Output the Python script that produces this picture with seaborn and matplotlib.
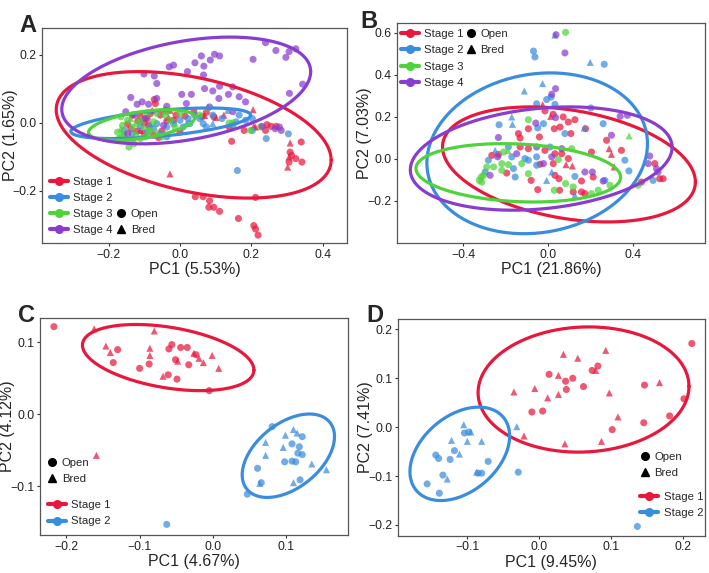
import numpy as np
import pandas as pd
import seaborn as sns
import matplotlib.pyplot as plt
from matplotlib.lines import Line2D

sns.set_theme(style="white")
plt.rcParams["font.family"] = ["Liberation Sans", "DejaVu Sans"]

# -------------------------------
# DATA (PC scores)
# -------------------------------
STAGES = ["Stage 1", "Stage 2", "Stage 3", "Stage 4"]
COLORS = ["#E8183C", "#3A8DDE", "#4ED33A", "#8A3CCF"]

# Panel A
A_S1_OPEN = [(0.212, -0.219), (0.207, -0.302), (0.212, -0.312), (0.219, -0.330), (0.164, -0.281),
             (0.111, -0.260), (0.095, -0.248), (0.083, -0.229), (0.081, -0.248), (0.065, -0.217),
             (0.043, -0.217), (0.145, -0.054), (0.309, -0.086), (0.313, -0.096), (0.325, -0.105),
             (0.342, -0.115), (0.306, -0.115), (0.340, -0.056), (0.240, -0.022), (0.256, -0.010),
             (0.270, -0.010), (0.244, -0.005), (-0.011, 0.023), (-0.018, 0.008), (0.014, 0.020),
             (0.039, 0.033), (0.062, 0.018), (0.074, 0.031), (0.095, 0.018), (-0.069, 0.057),
             (-0.072, 0.069), (-0.041, 0.037), (-0.055, 0.023), (-0.083, 0.028), (-0.092, 0.013),
             (-0.111, 0.020), (-0.118, 0.006), (-0.101, 0.000), (-0.138, -0.017), (-0.120, -0.024),
             (-0.101, -0.030), (-0.074, -0.036), (-0.051, -0.024), (-0.060, -0.043), (-0.037, 0.006),
             (-0.147, -0.004), (-0.134, 0.023), (-0.088, -0.007), (0.138, -0.012), (0.180, -0.022),
             (0.000, -0.027)]
A_S1_BRED = [(0.309, -0.059), (0.302, -0.130), (0.212, -0.012), (0.205, 0.039), (0.123, 0.023),
             (0.069, 0.022), (0.101, 0.016), (-0.028, -0.150), (0.207, -0.010), (-0.111, -0.022),
             (-0.028, 0.037), (-0.032, 0.016), (-0.078, 0.037), (0.306, -0.100)]
A_S2_OPEN = [(0.161, -0.140), (0.242, -0.046), (0.304, -0.032), (0.203, -0.022), (0.148, -0.007),
             (0.092, 0.023), (0.166, 0.023), (0.184, 0.008), (0.065, -0.002), (0.041, 0.023),
             (0.023, 0.013), (0.000, 0.008), (-0.018, -0.002), (-0.037, -0.012), (-0.065, -0.002),
             (-0.092, -0.027), (-0.111, -0.012), (-0.134, -0.032), (-0.157, -0.022), (-0.074, -0.017),
             (-0.055, -0.032), (-0.037, -0.041), (0.009, -0.012), (0.028, -0.002), (0.055, 0.013),
             (0.074, -0.012), (0.203, 0.013), (0.118, 0.013), (0.157, 0.003)]
A_S2_BRED = [(0.092, -0.002), (0.134, 0.037), (0.018, -0.002), (-0.083, -0.002)]
A_S3_OPEN = [(-0.166, 0.018), (-0.161, -0.007), (-0.157, -0.032), (-0.143, -0.071), (-0.134, -0.051),
             (-0.124, -0.036), (-0.147, 0.008), (-0.134, -0.012), (-0.120, -0.002), (-0.111, -0.046),
             (-0.097, -0.041), (-0.083, -0.022), (-0.074, 0.003), (-0.092, 0.028), (-0.065, 0.028),
             (-0.041, 0.023), (-0.028, 0.008), (-0.014, -0.012), (-0.175, -0.027), (-0.171, -0.046),
             (-0.152, -0.051), (-0.129, -0.061), (-0.037, 0.033), (0.055, 0.023), (0.138, 0.000),
             (0.148, 0.000), (0.198, -0.022), (0.226, -0.012), (-0.051, -0.041), (0.000, 0.028),
             (-0.111, 0.008), (-0.088, -0.024), (-0.164, -0.041)]
A_S3_BRED = [(-0.138, 0.013), (-0.101, -0.010), (0.078, 0.047), (-0.065, -0.027), (-0.166, -0.017)]
A_S4_OPEN = [(0.240, 0.236), (0.269, 0.213), (0.306, 0.210), (0.325, 0.218), (0.297, 0.193),
             (0.205, 0.187), (0.344, 0.114), (0.307, 0.087), (0.060, 0.197), (0.097, 0.202),
             (0.111, 0.197), (0.085, 0.185), (0.067, 0.167), (0.042, 0.177), (-0.018, 0.170),
             (-0.030, 0.165), (0.021, 0.151), (-0.072, 0.138), (-0.101, 0.144), (-0.065, 0.116),
             (0.066, 0.141), (0.111, 0.108), (0.092, 0.094), (0.005, 0.084), (0.032, 0.084),
             (0.069, 0.101), (0.136, 0.084), (0.148, 0.106), (0.166, 0.077), (0.184, 0.062),
             (0.109, 0.072), (-0.138, 0.075), (-0.106, 0.062), (-0.088, 0.055), (-0.120, 0.055),
             (-0.065, 0.072), (-0.037, 0.049), (0.018, 0.057), (-0.152, 0.033), (-0.129, 0.023),
             (0.267, -0.017), (0.284, -0.022), (0.279, -0.012), (0.230, -0.010), (-0.097, 0.013),
             (0.083, 0.047), (0.148, 0.033), (-0.147, -0.032), (-0.046, -0.007)]
A_S4_BRED = []

# Panel B
B_S1_OPEN = [(-0.016, 0.229), (0.023, 0.213), (0.070, 0.200), (0.125, 0.187), (0.175, 0.144),
             (-0.141, 0.121), (-0.133, 0.100), (-0.094, 0.144), (-0.042, 0.105), (0.028, 0.144),
             (0.094, 0.176), (0.055, 0.152), (0.106, 0.121), (-0.133, 0.057), (-0.094, 0.049),
             (0.063, 0.025), (0.031, 0.025), (-0.016, 0.041), (0.094, 0.002), (0.023, -0.022),
             (0.203, 0.033), (0.274, 0.089), (0.344, 0.041), (0.501, -0.022), (0.540, -0.094),
             (0.524, -0.094), (0.438, -0.110), (0.156, -0.105), (0.211, -0.086), (0.156, -0.157),
             (0.172, -0.165), (0.050, -0.094), (0.053, -0.149), (0.117, -0.157), (-0.050, -0.146),
             (0.031, -0.078), (-0.081, -0.102), (-0.039, -0.025), (-0.196, -0.067), (-0.266, 0.017),
             (-0.235, 0.022)]
B_S1_BRED = [(-0.027, 0.259), (0.011, 0.203), (0.083, -0.027), (0.113, -0.033), (0.286, 0.049),
             (0.297, 0.022), (0.310, -0.038)]
B_S2_OPEN = [(-0.070, 0.514), (-0.063, 0.486), (0.263, 0.451), (-0.008, 0.283), (0.013, 0.295),
             (-0.055, 0.263), (0.031, 0.260), (0.200, 0.243), (0.258, 0.168), (-0.232, 0.163),
             (-0.050, 0.148), (-0.023, 0.168), (0.078, 0.121), (-0.188, 0.057), (0.008, 0.057),
             (0.360, -0.006), (0.493, -0.102), (0.379, -0.057), (0.125, -0.083), (0.266, -0.102),
             (-0.055, -0.030), (-0.156, -0.086), (-0.164, -0.046), (-0.282, -0.006), (-0.297, -0.062),
             (-0.172, 0.010), (-0.110, 0.002), (-0.094, -0.006), (-0.055, 0.010)]
B_S2_BRED = [(0.031, 0.590), (0.197, 0.460), (-0.027, 0.359), (-0.113, 0.324), (-0.172, 0.200),
             (-0.169, 0.165), (0.169, 0.148), (-0.250, 0.041), (0.125, -0.173), (-0.008, -0.102),
             (0.016, -0.062)]
B_S3_OPEN = [(0.081, 0.603), (-0.094, 0.187), (-0.211, 0.033), (0.110, 0.049), (0.047, -0.003),
             (0.423, -0.125), (0.203, -0.165), (0.235, -0.149), (0.290, -0.125), (0.117, -0.133),
             (0.081, -0.117), (0.028, -0.149), (-0.094, -0.070), (-0.219, -0.054), (-0.258, -0.038),
             (-0.290, -0.038), (-0.316, -0.086), (-0.325, -0.102), (-0.313, -0.110), (-0.305, -0.078),
             (-0.125, -0.022), (-0.188, -0.027), (-0.219, -0.022)]
B_S3_BRED = [(0.380, 0.110), (-0.190, 0.040)]
B_S4_OPEN = [(0.036, 0.592), (0.078, 0.505), (0.034, 0.335), (0.016, 0.308), (0.338, 0.203),
             (0.372, 0.208), (-0.059, 0.171), (0.034, 0.197), (-0.235, 0.102), (-0.055, 0.057),
             (0.063, 0.049), (0.016, 0.010), (0.477, 0.014), (0.470, -0.022), (0.509, -0.046),
             (0.516, -0.062), (0.172, -0.062), (0.207, -0.062), (0.258, -0.105), (-0.238, 0.010),
             (-0.274, -0.078), (-0.149, 0.025), (-0.023, -0.022), (0.297, 0.113)]
B_S4_BRED = []

# Panel C
C_S1_OPEN = [(-0.217, 0.122), (-0.130, 0.090), (-0.136, 0.072), (-0.100, 0.064), (-0.087, 0.070),
             (-0.060, 0.091), (-0.056, 0.097), (-0.044, 0.093), (-0.035, 0.093), (-0.051, 0.076),
             (-0.033, 0.069), (-0.023, 0.083), (-0.061, 0.055), (-0.049, 0.049), (-0.005, 0.033)]
C_S1_BRED = [(-0.162, 0.119), (-0.146, 0.095), (-0.140, 0.086), (-0.080, 0.116), (-0.086, 0.092),
             (-0.086, 0.082), (-0.068, 0.053), (-0.048, 0.074), (-0.019, 0.078), (-0.013, 0.072),
             (-0.001, 0.082), (0.008, 0.064), (-0.159, -0.057), (-0.026, 0.085)]
C_S2_OPEN = [(0.081, -0.017), (0.108, -0.041), (0.122, -0.031), (0.118, -0.045), (0.116, -0.054),
             (0.122, -0.056), (0.098, -0.066), (0.108, -0.065), (0.113, -0.066), (0.061, -0.075),
             (0.066, -0.095), (0.119, -0.091), (0.047, -0.111), (-0.063, -0.153)]
C_S2_BRED = [(0.072, -0.039), (0.072, -0.057), (0.099, -0.029), (0.096, -0.046), (0.110, -0.021),
             (0.115, -0.026), (0.135, -0.069), (0.155, -0.077), (0.110, -0.095), (0.064, -0.096)]

# Panel D
D_S1_OPEN = [(0.213, 0.171), (0.014, 0.108), (0.037, 0.094), (0.047, 0.100), (0.038, 0.077),
             (0.062, 0.083), (0.074, 0.116), (0.082, 0.125), (0.147, 0.086), (0.202, 0.058),
             (0.182, 0.023), (0.146, 0.009), (0.102, -0.005), (-0.010, 0.031), (0.005, 0.033)]
D_S1_BRED = [(0.034, 0.149), (0.054, 0.141), (0.093, 0.157), (0.168, 0.091), (0.098, 0.070),
             (0.110, 0.021), (0.027, 0.106), (0.027, 0.067), (0.012, 0.060), (-0.006, 0.079),
             (-0.035, 0.072), (-0.021, -0.018), (0.036, -0.034), (0.087, -0.029), (0.079, 0.116)]
D_S2_OPEN = [(-0.118, -0.048), (-0.124, -0.066), (-0.144, -0.057), (-0.140, -0.064), (-0.134, -0.098),
             (-0.156, -0.116), (-0.139, -0.135), (-0.080, -0.094), (-0.085, -0.094), (-0.071, -0.070),
             (-0.029, -0.092), (0.137, -0.203), (-0.104, -0.012), (-0.098, -0.010)]
D_S2_BRED = [(-0.105, 0.005), (-0.095, -0.010), (-0.100, -0.029), (-0.080, -0.029), (-0.122, -0.027),
             (-0.111, -0.055), (-0.128, -0.106), (-0.031, 0.001), (-0.087, -0.092)]

# Ellipses: centre x, centre y, half-width, half-height, tilt phase
A_ELLIPSES = [(0.0385, -0.035, 0.3855, 0.186, -0.41), (-0.054, -0.001, 0.252, 0.045, 0.56),
              (-0.1075, -0.006, 0.149, 0.045, 0.51), (0.0175, 0.0955, 0.349, 0.157, 0.36)]
B_ELLIPSES = [(0.097, -0.026, 0.595, 0.274, -0.31), (-0.0525, 0.027, 0.519, 0.383, 0.12),
              (-0.1415, -0.066, 0.4815, 0.139, -0.15), (-0.0335, 0.002, 0.616, 0.246, 0.22)]
C_ELLIPSES = [(-0.061, 0.079, 0.117, 0.046, -0.385), (0.103, -0.0575, 0.063, 0.058, 0.475)]
D_ELLIPSES = [(0.062, 0.077, 0.147, 0.128, 0.05), (-0.1105, -0.0545, 0.0695, 0.0955, 0.39)]

A_LABELS = ("PC1 (5.53%)", "PC2 (1.65%)")
B_LABELS = ("PC1 (21.86%)", "PC2 (7.03%)")
C_LABELS = ("PC1 (4.67%)", "PC2 (4.12%)")
D_LABELS = ("PC1 (9.45%)", "PC2 (7.41%)")

A_XTICKS, A_YTICKS = [-0.2, 0.0, 0.2, 0.4], [-0.2, 0.0, 0.2]
B_XTICKS, B_YTICKS = [-0.4, 0.0, 0.4], [-0.2, 0.0, 0.2, 0.4, 0.6]
C_XTICKS, C_YTICKS = [-0.2, -0.1, 0.0, 0.1], [-0.1, 0.0, 0.1]
D_XTICKS, D_YTICKS = [-0.1, 0.0, 0.1, 0.2], [-0.2, -0.1, 0.0, 0.1, 0.2]


def build_frame(groups):
    rows = []
    for stage, status, pts in groups:
        for x, y in pts:
            rows.append({"PC1": x, "PC2": y, "Stage": stage, "Status": status})
    return pd.DataFrame(rows)


df_a = build_frame([("Stage 1", "Open", A_S1_OPEN), ("Stage 1", "Bred", A_S1_BRED),
                    ("Stage 2", "Open", A_S2_OPEN), ("Stage 2", "Bred", A_S2_BRED),
                    ("Stage 3", "Open", A_S3_OPEN), ("Stage 3", "Bred", A_S3_BRED),
                    ("Stage 4", "Open", A_S4_OPEN), ("Stage 4", "Bred", A_S4_BRED)])
df_b = build_frame([("Stage 1", "Open", B_S1_OPEN), ("Stage 1", "Bred", B_S1_BRED),
                    ("Stage 2", "Open", B_S2_OPEN), ("Stage 2", "Bred", B_S2_BRED),
                    ("Stage 3", "Open", B_S3_OPEN), ("Stage 3", "Bred", B_S3_BRED),
                    ("Stage 4", "Open", B_S4_OPEN), ("Stage 4", "Bred", B_S4_BRED)])
df_c = build_frame([("Stage 1", "Open", C_S1_OPEN), ("Stage 1", "Bred", C_S1_BRED),
                    ("Stage 2", "Open", C_S2_OPEN), ("Stage 2", "Bred", C_S2_BRED)])
df_d = build_frame([("Stage 1", "Open", D_S1_OPEN), ("Stage 1", "Bred", D_S1_BRED),
                    ("Stage 2", "Open", D_S2_OPEN), ("Stage 2", "Bred", D_S2_BRED)])

palette = dict(zip(STAGES, COLORS))

fig = plt.figure(figsize=(7.09, 5.73), dpi=100)
ax_a = fig.add_axes([0.0592, 0.576, 0.430, 0.375])
ax_b = fig.add_axes([0.560, 0.576, 0.434, 0.384])
ax_c = fig.add_axes([0.0564, 0.066, 0.434, 0.379])
ax_d = fig.add_axes([0.561, 0.065, 0.433, 0.379])


def draw_panel(ax, df, ellipses, labels, xticks, yticks, xlim, ylim):
    sns.scatterplot(data=df, x="PC1", y="PC2", hue="Stage", style="Status",
                    markers={"Open": "o", "Bred": "^"}, palette=palette,
                    s=26, alpha=0.72, linewidth=0, legend=False, ax=ax)
    t = np.linspace(0, 2 * np.pi, 300)
    for (cx, cy, rx, ry, phi), col in zip(ellipses, COLORS):
        ax.plot(cx + rx * np.cos(t), cy + ry * np.sin(t + phi), color=col, lw=2.3)
    ax.set_xlim(*xlim)
    ax.set_ylim(*ylim)
    ax.set_xticks(xticks)
    ax.set_yticks(yticks)
    ax.set_xticklabels([f"{v:.1f}".replace("-", "\u2212") for v in xticks])
    ax.set_yticklabels([f"{v:.1f}".replace("-", "\u2212") for v in yticks])
    ax.set_xlabel(labels[0], fontsize=11.5, labelpad=1)
    ax.set_ylabel(labels[1], fontsize=11.5)
    ax.yaxis.set_label_coords(-0.08, 0.5)
    ax.tick_params(axis="both", labelsize=8.8, colors="#333333", length=2.5,
                   width=0.8, direction="out", bottom=True, left=True, pad=1.5)
    ax.tick_params(labelcolor="#222222")
    for sp in ax.spines.values():
        sp.set_color("#555555")
        sp.set_linewidth(0.9)


def add_legends(ax, n_stage, stage_loc, shape_loc, anchor_stage, anchor_shape):
    stage_handles = [Line2D([], [], color=c, lw=3, marker="o", markersize=5.5)
                     for c in COLORS[:n_stage]]
    shape_handles = [Line2D([], [], color="black", lw=0, marker="o", markersize=5.5),
                     Line2D([], [], color="black", lw=0, marker="^", markersize=5.5)]
    kw = dict(frameon=False, fontsize=8.2, handlelength=1.6, handletextpad=0.45,
              labelspacing=0.55, borderpad=0, borderaxespad=0)
    leg1 = ax.legend(stage_handles, STAGES[:n_stage], loc=stage_loc,
                     bbox_to_anchor=anchor_stage, **kw)
    ax.add_artist(leg1)
    ax.legend(shape_handles, ["Open", "Bred"], loc=shape_loc,
              bbox_to_anchor=anchor_shape, **dict(kw, handlelength=0.8))


draw_panel(ax_a, df_a, A_ELLIPSES, A_LABELS, A_XTICKS, A_YTICKS, (-0.387, 0.468), (-0.353, 0.279))
draw_panel(ax_b, df_b, B_ELLIPSES, B_LABELS, B_XTICKS, B_YTICKS, (-0.712, 0.736), (-0.40, 0.648))
draw_panel(ax_c, df_c, C_ELLIPSES, C_LABELS, C_XTICKS, C_YTICKS, (-0.236, 0.184), (-0.168, 0.134))
draw_panel(ax_d, df_d, D_ELLIPSES, D_LABELS, D_XTICKS, D_YTICKS, (-0.197, 0.231), (-0.222, 0.222))

add_legends(ax_a, 4, "lower left", "lower left", (0.025, 0.035), (0.245, 0.035))
add_legends(ax_b, 4, "upper left", "upper left", (0.012, 0.972), (0.225, 0.972))
add_legends(ax_c, 2, "lower left", "lower left", (0.025, 0.04), (0.025, 0.235))
add_legends(ax_d, 2, "lower left", "lower left", (0.79, 0.08), (0.79, 0.265))

for label, (x, y) in zip("ABCD", [(0.028, 0.975), (0.508, 0.982), (0.025, 0.47), (0.517, 0.47)]):
    fig.text(x, y, label, fontsize=17, fontweight="bold", va="top", ha="left")

fig.savefig("out.png", dpi=100)
